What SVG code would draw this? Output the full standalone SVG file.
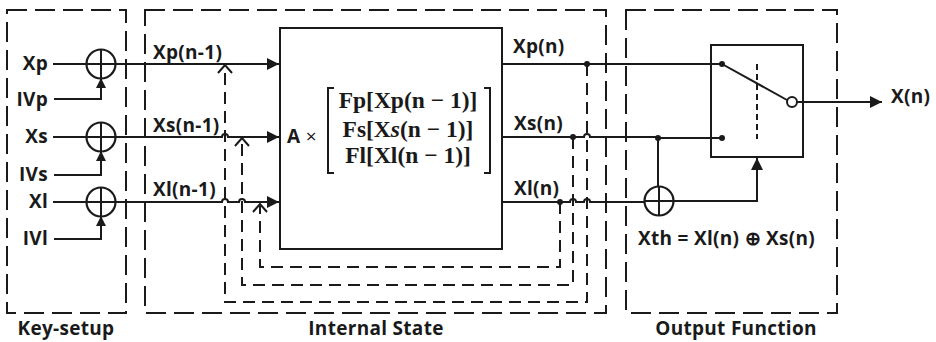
<svg xmlns="http://www.w3.org/2000/svg" width="936" height="342" viewBox="0 0 936 342">
<style>
.t{font-family:"Open Sans","Liberation Sans",sans-serif;font-weight:700;font-size:19px;letter-spacing:0.3px;fill:#1a1a1a}
.m{font-family:"Liberation Serif","DejaVu Serif",serif;font-weight:700;font-size:23.5px;fill:#1a1a1a}
.s{fill:none;stroke:#1a1a1a;stroke-width:2}
.box{fill:none;stroke:#1a1a1a;stroke-width:2;stroke-dasharray:20 8}
.fb{fill:none;stroke:#1a1a1a;stroke-width:2;stroke-dasharray:12 7}
.dot{fill:#1a1a1a}
</style>
<defs>
<marker id="ah" viewBox="0 0 12 12" refX="12" refY="6" markerWidth="12" markerHeight="12" markerUnits="userSpaceOnUse" orient="auto">
<path d="M0,0 L12,6 L0,12 Z" fill="#1a1a1a"/>
</marker>
<marker id="ahs" viewBox="0 0 10 10" refX="10" refY="5" markerWidth="10" markerHeight="10" markerUnits="userSpaceOnUse" orient="auto">
<path d="M0,0 L10,5 L0,10 Z" fill="#1a1a1a"/>
</marker>
<g id="xor"><circle cx="0" cy="0" r="14.5" fill="#fff" stroke="#1a1a1a" stroke-width="2.2"/><path d="M-14.5,0 H14.5 M0,-14.5 V14.5" stroke="#1a1a1a" stroke-width="2"/></g>
</defs>

<g id="key-setup">
<rect class="box" x="7" y="10" width="119" height="303"/>
<text class="t" x="66" y="335" text-anchor="middle">Key-setup</text>
<text class="t" x="48" y="70" text-anchor="end">Xp</text>
<text class="t" x="48" y="106" text-anchor="end">IVp</text>
<text class="t" x="48" y="143" text-anchor="end">Xs</text>
<text class="t" x="48" y="181" text-anchor="end">IVs</text>
<text class="t" x="48" y="208" text-anchor="end">Xl</text>
<text class="t" x="48" y="245" text-anchor="end">IVl</text>
</g>
<g id="xor-p"><use href="#xor" x="101" y="64"/></g>
<g id="xor-s"><use href="#xor" x="101" y="137"/></g>
<g id="xor-l"><use href="#xor" x="101" y="202"/></g>

<g id="internal-state">
<rect class="box" x="145" y="10" width="461" height="303"/>
<text class="t" x="376" y="335" text-anchor="middle">Internal State</text>
</g>
<g id="block-a">
<rect class="s" x="280" y="28" width="222" height="221" fill="#fff"/>
<text class="t" x="287" y="143">A <tspan font-weight="400">×</tspan></text>
<path class="s" d="M334,88 H328 V173 H334 M484,88 H490 V173 H484"/>
<text class="m" x="408" y="108" text-anchor="middle">Fp[Xp(n − 1)]</text>
<text class="m" x="408" y="137" text-anchor="middle">Fs[X<tspan font-style="italic">s</tspan>(n − 1)]</text>
<text class="m" x="408" y="163" text-anchor="middle">Fl[Xl(n − 1)]</text>
</g>

<g id="output-function">
<rect class="box" x="626" y="10" width="211" height="303"/>
<text class="t" x="736" y="335" text-anchor="middle">Output Function</text>
<text class="t" x="638" y="245">Xth = Xl(n) ⊕ Xs(n)</text>
</g>
<g id="xor-out"><use href="#xor" x="659" y="201"/></g>
<g id="switch">
<rect class="s" x="711" y="45" width="92" height="112"/>
<path class="s" d="M722,64 L787,100"/>
<circle cx="792" cy="102" r="5" fill="#fff" stroke="#1a1a1a" stroke-width="2"/>
<path d="M757,64 V139" fill="none" stroke="#1a1a1a" stroke-width="2" stroke-dasharray="6 4"/>
<circle class="dot" cx="722" cy="64" r="3"/>
<circle class="dot" cx="722" cy="138" r="3"/>
</g>

<g id="connectors">
<path class="s" d="M53,64 H87"/>
<path class="s" d="M53,137 H87"/>
<path class="s" d="M53,202 H87"/>
<path class="s" d="M54,99 H101 V78" marker-end="url(#ahs)"/>
<path class="s" d="M54,175 H101 V151" marker-end="url(#ahs)"/>
<path class="s" d="M54,239 H101 V216" marker-end="url(#ahs)"/>
<path class="s" d="M115,64 H279" marker-end="url(#ah)"/>
<path class="s" d="M115,137 H222 a3,3 0 0 1 6,0 H279" marker-end="url(#ah)"/>
<path class="s" d="M115,202 H222 a3,3 0 0 1 6,0 H239 a3,3 0 0 1 6,0 H279" marker-end="url(#ah)"/>
<text class="t" x="153" y="59">Xp(n-1)</text>
<text class="t" x="153" y="132">Xs(n-1)</text>
<text class="t" x="153" y="196">Xl(n-1)</text>
<path class="s" d="M502,64 H722"/>
<path class="s" d="M502,137 H584 a3,3 0 0 1 6,0 H658 V138 H722"/>
<path class="s" d="M502,202 H570 a3,3 0 0 1 6,0 H584 a3,3 0 0 1 6,0 H645"/>
<text class="t" x="513" y="53">Xp(n)</text>
<text class="t" x="514" y="130">Xs(n)</text>
<text class="t" x="514" y="195">Xl(n)</text>
<circle class="dot" cx="587" cy="64" r="3"/>
<circle class="dot" cx="573" cy="137" r="3"/>
<circle class="dot" cx="560" cy="202" r="3"/>
<circle class="dot" cx="658" cy="138" r="3"/>
<path class="fb" d="M587,64 V302 H225 V67"/>
<path class="s" d="M218,73 L225,65 L232,73"/>
<path class="fb" d="M573,137 V285 H242 V140"/>
<path class="s" d="M235,146 L242,138 L249,146"/>
<path class="fb" d="M560,202 V267 H260 V206"/>
<path class="s" d="M253,212 L260,204 L267,212"/>
<path class="s" d="M658,138 V186"/>
<path class="s" d="M673,201 H757 V158" marker-end="url(#ah)"/>
<path class="s" d="M797,102 H882" marker-end="url(#ah)"/>
<text class="t" x="891" y="103">X(n)</text>
</g>
</svg>
